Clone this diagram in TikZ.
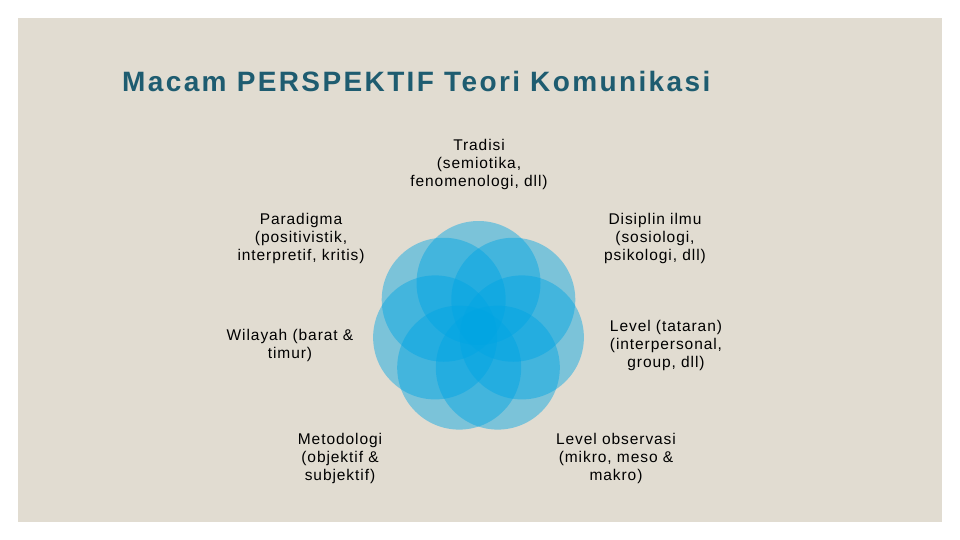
\documentclass[tikz,border=0pt]{standalone}
\usepackage{fontspec}
\setmainfont{Liberation Sans}
\definecolor{bgbeige}{RGB}{225,220,209}
\definecolor{petalblue}{RGB}{0,165,228}
\definecolor{titleblue}{RGB}{30,92,112}
\begin{document}
\begin{tikzpicture}[x=1pt,y=-1pt,
  lbl/.style={align=center,inner sep=0pt,text=black,
    font=\addfontfeature{LetterSpace=6}\fontsize{15.5}{18}\selectfont},
  petal/.style={circle,minimum size=124pt,inner sep=0pt,fill=petalblue,fill opacity=0.45},
  titlestyle/.style={anchor=base west,inner sep=0pt,text=titleblue,
    font=\addfontfeature{LetterSpace=8.5}\fontsize{28}{32}\selectfont\bfseries}]
\useasboundingbox (0,0) rectangle (960,540);
\fill[white] (0,0) rectangle (960,540);
\fill[bgbeige] (18,18) rectangle (942,522);
\foreach \i in {0,...,6}{
  \node[petal] (p\i) at ({478.5+44.5*cos(90+\i*360/7)},{327.5-44.5*sin(90+\i*360/7)}) {};
}
\node[titlestyle] (title) at (122,92) {Macam PERSPEKTIF Teori Komunikasi};
\node[lbl] (tradisi) at (479,164) {Tradisi\\(semiotika,\\fenomenologi, dll)};
\node[lbl] (paradigma) at (301,238) {Paradigma\\(positivistik,\\interpretif, kritis)};
\node[lbl] (disiplin) at (655,238) {Disiplin ilmu\\(sosiologi,\\psikologi, dll)};
\node[lbl] (wilayah) at (290,345) {Wilayah (barat \&\\timur)};
\node[lbl] (level) at (666,345) {Level (tataran)\\(interpersonal,\\group, dll)};
\node[lbl] (metodologi) at (340,458) {Metodologi\\(objektif \&\\subjektif)};
\node[lbl] (observasi) at (616,458) {Level observasi\\(mikro, meso \&\\makro)};
\end{tikzpicture}
\end{document}
